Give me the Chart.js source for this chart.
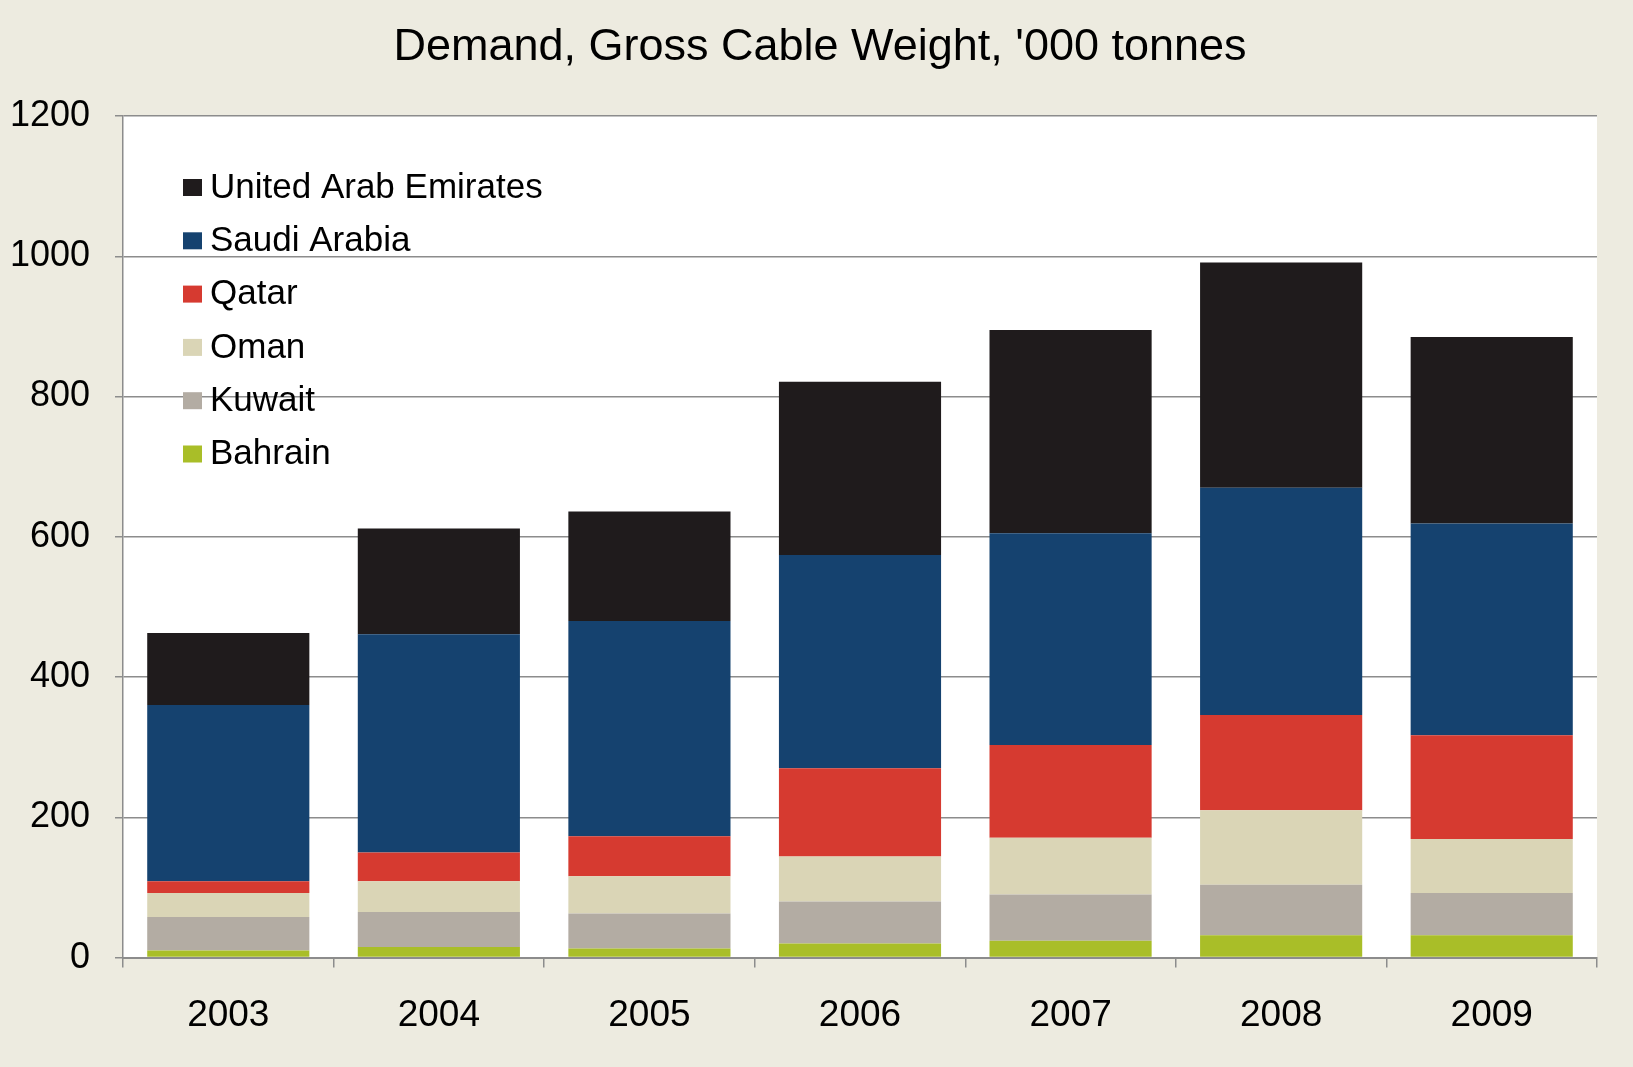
<!DOCTYPE html>
<html>
<head>
<meta charset="utf-8">
<script src="https://cdn.jsdelivr.net/npm/chart.js@4/dist/chart.umd.min.js"></script>
<style>
  html, body { margin: 0; padding: 0; background: #EDEBE0; }
  #wrap { width: 1633px; height: 1067px; }
</style>
</head>
<body>
<div id="wrap"><canvas id="demandChart"></canvas></div>
<script>
// === Data ('000 tonnes) ===
const years = ["2003", "2004", "2005", "2006", "2007", "2008", "2009"];
const bahrain = [10, 15, 13, 20, 24, 32, 32];
const kuwait  = [48, 50, 50, 60, 66, 72, 60];
const oman    = [34, 44, 53, 64, 81, 106, 77];
const qatar   = [17, 41, 57, 126, 132, 136, 148];
const saudi   = [251, 311, 307, 304, 302, 324, 302];
const uae     = [103, 151, 156, 247, 290, 321, 266];
const yTicks  = [0, 200, 400, 600, 800, 1000, 1200];

const FONT = "'Liberation Sans', Arial, sans-serif";

// === Plot area background ===
const plotBg = {
  id: "plotBg",
  beforeDraw(chart) {
    const { ctx, chartArea: a } = chart;
    ctx.save();
    ctx.fillStyle = "#EDEBE0";
    ctx.fillRect(0, 0, chart.width, chart.height);
    ctx.fillStyle = "#FFFFFF";
    ctx.fillRect(a.left, a.top, a.right - a.left, a.bottom - a.top);
    ctx.restore();
  }
};

// === Legend inside plot (top-left, reversed order) ===
const insideLegend = {
  id: "insideLegend",
  afterDraw(chart) {
    const { ctx } = chart;
    const sets = chart.data.datasets.slice().reverse();
    ctx.save();
    ctx.font = "35px " + FONT;
    ctx.textBaseline = "middle";
    sets.forEach((ds, i) => {
      const y = 188 + i * 53.3;
      ctx.fillStyle = ds.backgroundColor;
      ctx.fillRect(183, y - 9, 19, 17);
      ctx.fillStyle = "#000";
      ctx.fillText(ds.label, 210, y);
    });
    ctx.restore();
  }
};

const mk = (label, data, color) => ({
  label, data,
  backgroundColor: color,
  borderWidth: 0,
  barPercentage: 0.77,
  categoryPercentage: 1.0
});

new Chart(document.getElementById("demandChart"), {
  type: "bar",
  data: {
    labels: years,
    datasets: [
      mk("Bahrain", bahrain, "#A9BE28"),
      mk("Kuwait", kuwait, "#B3ACA3"),
      mk("Oman", oman, "#DAD5B6"),
      mk("Qatar", qatar, "#D63A30"),
      mk("Saudi Arabia", saudi, "#15426F"),
      mk("United Arab Emirates", uae, "#1F1B1C")
    ]
  },
  options: {
    responsive: true,
    maintainAspectRatio: false,
    animation: false,
    layout: { padding: { left: 12, right: 5, top: 0, bottom: 3 } },
    plugins: {
      legend: { display: false },
      tooltip: { enabled: false },
      title: {
        display: true,
        text: "Demand, Gross Cable Weight, '000 tonnes",
        color: "#000",
        font: { family: FONT, size: 45, weight: "normal" },
        padding: { top: 21, bottom: 41 }
      }
    },
    scales: {
      x: {
        stacked: true,
        offset: true,
        grid: {
          display: true, drawOnChartArea: false, offset: true,
          tickLength: 10, color: "#8C8C8C", lineWidth: 1.5
        },
        border: { color: "#8C8C8C", width: 2 },
        ticks: { color: "#000", font: { family: FONT, size: 37 }, padding: 26 }
      },
      y: {
        stacked: true,
        min: 0, max: 1200,
        afterBuildTicks(scale) { scale.ticks = yTicks.map(v => ({ value: v })); },
        afterFit(scale) { scale.width = 111; },
        grid: { color: "#8C8C8C", lineWidth: 1.5, tickLength: 8 },
        border: { color: "#8C8C8C", width: 1.5 },
        ticks: {
          color: "#000", font: { family: FONT, size: 36 }, padding: 25,
          callback: v => String(v)
        }
      },
      // empty right-hand gutter
      yRight: {
        position: "right",
        min: 0, max: 1200,
        afterFit(scale) { scale.width = 31; },
        grid: { display: false },
        border: { display: false },
        ticks: { display: false }
      }
    }
  },
  plugins: [plotBg, insideLegend]
});
</script>
</body>
</html>
